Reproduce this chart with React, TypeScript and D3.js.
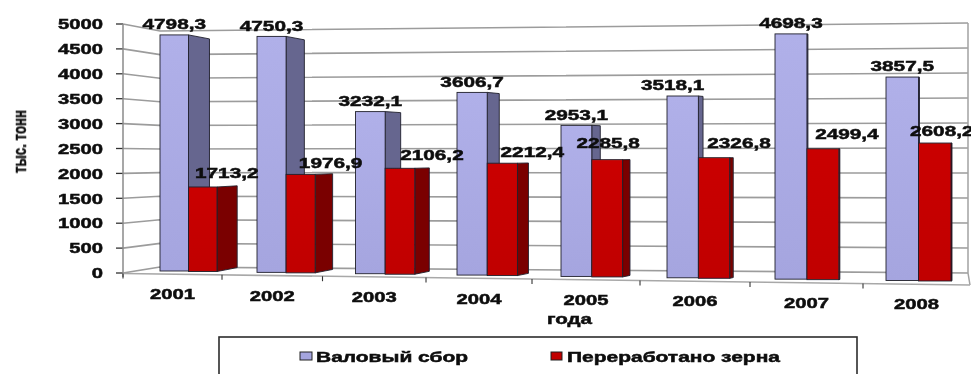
import React from "react";
import * as d3 from "d3";

const years = ["2001", "2002", "2003", "2004", "2005", "2006", "2007", "2008"];
const grossHarvest = [4798.3, 4750.3, 3232.1, 3606.7, 2953.1, 3518.1, 4698.3, 3857.5];
const processedGrain = [1713.2, 1976.9, 2106.2, 2212.4, 2285.8, 2326.8, 2499.4, 2608.2];
const valueTicks = [0, 500, 1000, 1500, 2000, 2500, 3000, 3500, 4000, 4500, 5000];
const seriesNames = ["Валовый сбор", "Переработано зерна"];

const fmt = (v: number) => v.toFixed(1).replace(".", ",");
const FONT = "'Liberation Sans', Arial, sans-serif";
const INK = "#0c0c0c";

// Distorted perspective of the reference picture, expressed as scales
const tickX = [123, 222, 322.5, 426, 532, 640, 750, 863, 970];
const xBand = d3.scaleLinear().domain(d3.range(9)).range(tickX);
const barInset = d3.scaleLinear().domain([0, 7]).range([37, 23]);
const barWidth = d3.scaleLinear().domain([0, 7]).range([28.5, 32.5]);
const baseY = d3.scaleLinear().domain([0, 7]).range([271, 280.5]);
const pxPerValue = d3.scaleLinear().domain([160, 919]).range([0.0492, 0.0529]);
const depthAt = d3.scaleLinear().domain([188, 386, 592, 731, 807]).range([21, 15.5, 8.5, 3.5, 1]).clamp(true);
const floorY = d3.scaleLinear().domain([123, 968]).range([273.5, 285]);
const yearLabelY = d3.scaleLinear().domain([0, 7]).range([294, 304]);

const axisY = d3.scaleLinear().domain([0, 5000]).range([273, 24]);
const wallLeft = d3.scaleLinear().domain([0, 5000]).range([267, 31]);
const wallRight = d3.scaleLinear().domain([0, 5000]).range([273, 23]);

const WALL_X0 = 160;
const WALL_X1 = 968;
const VANISH_Y = 152;

// horizontal nudges of the data labels, relative to the bar centre
const redLabelDx = [24, 30, 32, 30, 1, 25, 24, 7];
const greyLabelDx = [0, 0, 0, 0, 0, -10, 0, 0];
const redLabelDy = [-14, -12, -13, -11, -17, -15, -15, -12];

function Txt({ x, y, w, size, anchor = "middle", children }: any) {
  return (
    <text
      x={x}
      y={y}
      dy="0.36em"
      textAnchor={anchor}
      fontFamily={FONT}
      fontWeight={700}
      fontSize={size}
      fill={INK}
      stroke={INK}
      strokeWidth={0.5}
      textLength={w}
      lengthAdjust="spacingAndGlyphs"
    >
      {children}
    </text>
  );
}

function pts(list: [number, number][]) {
  return list.map((p) => p.join(",")).join(" ");
}

function sideFace(xr: number, top: number, base: number) {
  const d = depthAt(xr);
  const t = (d / 21) * 0.034;
  const back = (y: number) => y + t * (VANISH_Y - y);
  return pts([
    [xr, top],
    [xr + d, back(top)],
    [xr + d, back(base)],
    [xr, base],
  ]);
}

export default function App() {
  const bars = years.map((year, i) => {
    const x0 = xBand(i) + barInset(i);
    const w = barWidth(i);
    const base = baseY(i);
    const top1 = base - grossHarvest[i] * pxPerValue(x0);
    const top2 = base + 0.5 - processedGrain[i] * pxPerValue(x0 + w);
    return { year, i, x0, w, base, top1, top2 };
  });

  return (
    <svg
      width={971}
      height={374}
      viewBox="0 0 971 374"
      style={{ position: "absolute", left: 0, top: 0, background: "#fff" }}
    >
      <defs>
        <filter id="soft" x="-2%" y="-2%" width="104%" height="104%">
          <feGaussianBlur stdDeviation="0.45" />
        </filter>
        <linearGradient id="lightFront" x1="0" y1="0" x2="0" y2="1">
          <stop offset="0" stopColor="#b0b0e9" />
          <stop offset="1" stopColor="#a5a5df" />
        </linearGradient>
        <linearGradient id="redFront" x1="0" y1="0" x2="0" y2="1">
          <stop offset="0" stopColor="#ca0606" />
          <stop offset="1" stopColor="#c00000" />
        </linearGradient>
      </defs>
      <g filter="url(#soft)">
        {/* walls and gridlines */}
        {valueTicks.map((v) => (
          <g key={v}>
            <polyline
              points={pts([
                [123, axisY(v)],
                [WALL_X0, wallLeft(v)],
                [WALL_X1, wallRight(v)],
              ])}
              fill="none"
              stroke="#9c9c9c"
              strokeWidth={1.6}
            />
            <line x1={116} x2={123} y1={axisY(v)} y2={axisY(v)} stroke="#333" strokeWidth={1.3} />
            <Txt x={103} y={axisY(v)} w={String(v).length * 11.25} size={14.5} anchor="end">
              {v}
            </Txt>
          </g>
        ))}
        <line x1={123} x2={123} y1={axisY(5000)} y2={277} stroke="#8a8a8a" strokeWidth={1.5} />
        <polyline
          points={pts([
            [WALL_X1, wallRight(5000)],
            [WALL_X1, wallRight(0)],
            [970, floorY(968)],
          ])}
          fill="none"
          stroke="#a3a3a3"
          strokeWidth={1.5}
        />
        <line x1={123} x2={970} y1={floorY(123)} y2={floorY(968)} stroke="#a8a8a8" strokeWidth={1.6} />
        {tickX.slice(0, 8).map((x) => (
          <line key={x} x1={x} x2={x} y1={floorY(x)} y2={floorY(x) + 5} stroke="#333" strokeWidth={1.1} />
        ))}

        {/* bars */}
        {bars.map((b) => (
          <g key={b.year} stroke="#20202c" strokeWidth={0.9}>
            <polygon points={sideFace(b.x0 + b.w, b.top1, b.base - 2)} fill="#66668f" />
            <polygon points={sideFace(b.x0 + 2 * b.w, b.top2, b.base + 0.5)} fill="#7a0000" />
            <rect x={b.x0} y={b.top1} width={b.w} height={b.base - b.top1} fill="url(#lightFront)" />
            <rect x={b.x0 + b.w} y={b.top2} width={b.w} height={b.base + 0.5 - b.top2} fill="url(#redFront)" />
          </g>
        ))}

        {/* data labels */}
        {bars.map((b) => (
          <g key={b.year}>
            <Txt x={b.x0 + b.w / 2 + greyLabelDx[b.i]} y={b.top1 - 11} w={63.5} size={14.5}>
              {fmt(grossHarvest[b.i])}
            </Txt>
            <Txt x={b.x0 + 1.5 * b.w + redLabelDx[b.i]} y={b.top2 + redLabelDy[b.i]} w={63.5} size={14.5}>
              {fmt(processedGrain[b.i])}
            </Txt>
            <Txt x={(xBand(b.i) + xBand(b.i + 1)) / 2} y={yearLabelY(b.i)} w={45} size={14.5}>
              {b.year}
            </Txt>
          </g>
        ))}

        {/* axis titles */}
        <Txt x={569.5} y={319} w={45} size={15}>
          года
        </Txt>
        <g transform="translate(19,141.5) rotate(-90)">
          <Txt x={0} y={0} w={63} size={19}>
            тыс. тонн
          </Txt>
        </g>

        {/* legend */}
        <rect x={219} y={337} width={638} height={50} fill="#fff" stroke="#2c2c2c" strokeWidth={1.6} />
        <rect x={300} y={352} width={12} height={8} fill="#a5a5df" stroke="#222" strokeWidth={1} />
        <Txt x={316} y={357} w={152} size={15} anchor="start">
          {seriesNames[0]}
        </Txt>
        <rect x={551} y={352} width={11} height={8} fill="#c00000" stroke="#222" strokeWidth={1} />
        <Txt x={567} y={357} w={213} size={15} anchor="start">
          {seriesNames[1]}
        </Txt>
      </g>
    </svg>
  );
}
